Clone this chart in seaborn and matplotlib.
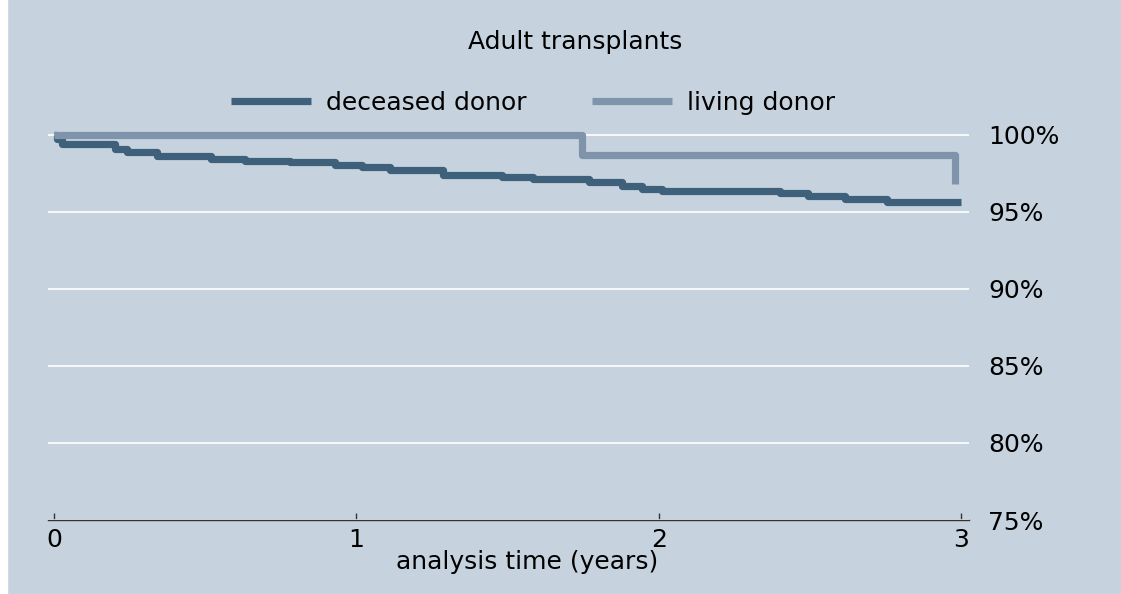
import matplotlib
matplotlib.use("Agg")
import matplotlib.pyplot as plt
from matplotlib.patches import Rectangle
import seaborn as sns
import pandas as pd

# Kaplan-Meier style survival (years, % surviving)
deceased_time = [0, 0.01, 0.025, 0.20, 0.24, 0.34, 0.52, 0.63, 0.78, 0.93, 1.02, 1.11,
                 1.285, 1.48, 1.585, 1.77, 1.88, 1.945, 2.01, 2.40, 2.495, 2.615, 2.755, 3.0]
deceased_surv = [100, 99.7, 99.38, 99.07, 98.86, 98.62, 98.40, 98.31, 98.21, 98.03, 97.92, 97.69,
                 97.38, 97.25, 97.12, 96.93, 96.67, 96.47, 96.36, 96.19, 96.02, 95.84, 95.65, 95.65]
living_time = [0, 1.745, 2.98]
living_surv = [100, 98.68, 96.8]

groups = ["deceased donor", "living donor"]
colors = ["#3e607a", "#7f94aa"]
y_ticks = [75, 80, 85, 90, 95, 100]
x_ticks = [0, 1, 2, 3]

bg = "#c6d3de"
fs = 18

df = pd.concat([
    pd.DataFrame({"time": deceased_time, "surv": deceased_surv, "group": groups[0]}),
    pd.DataFrame({"time": living_time, "surv": living_surv, "group": groups[1]}),
])

sns.set_style("white")
plt.rcParams["font.family"] = ["DejaVu Sans"]
plt.rcParams["text.color"] = "black"
plt.rcParams["axes.labelcolor"] = "black"
plt.rcParams["xtick.color"] = "black"
plt.rcParams["ytick.color"] = "black"

fig = plt.figure(figsize=(11.21, 5.94), dpi=100, facecolor=bg)
fig.patches.append(Rectangle((0, 0), 7 / 1121, 1, transform=fig.transFigure,
                             color="white", zorder=-1))
ax = fig.add_axes([48 / 1121, 74 / 594, 921 / 1121, 395 / 594])
ax.set_facecolor(bg)

sns.lineplot(data=df, x="time", y="surv", hue="group", palette=colors,
             drawstyle="steps-post", estimator=None, linewidth=5.2, ax=ax)
for ln in ax.lines:
    ln.set_solid_capstyle("butt")
    ln.set_solid_joinstyle("round")

ax.set_xlim(-0.02, 3.026)
ax.set_ylim(75, 100.63)
ax.set_xticks(x_ticks)
ax.set_yticks(y_ticks)
ax.set_yticklabels([f"{v}%" for v in y_ticks])
ax.yaxis.tick_right()
ax.grid(axis="y", color="white", linewidth=1.2)
ax.grid(axis="x", visible=False)
ax.set_axisbelow(True)

for side in ["top", "left", "right"]:
    ax.spines[side].set_visible(False)
ax.spines["bottom"].set_color("#333333")
ax.spines["bottom"].set_linewidth(1.0)
ax.spines["bottom"].set_zorder(5)

ax.tick_params(axis="x", direction="in", length=5, width=1, color="#333333",
               labelsize=fs, labelcolor="black", pad=6, bottom=True)
ax.tick_params(axis="y", length=0, labelsize=fs, labelcolor="black", pad=14,
               right=True, left=False)

ax.set_ylabel("")
ax.set_xlabel("analysis time (years)", fontsize=fs, color="black")
ax.xaxis.set_label_coords(0.52, -0.075)

handles, labels = ax.get_legend_handles_labels()
ax.get_legend().remove()
fig.legend(handles, labels, loc="center", bbox_to_anchor=(533 / 1121, 1 - 103 / 594),
           ncol=2, frameon=False, fontsize=fs, handlelength=3.2, handletextpad=0.6,
           columnspacing=2.6, labelcolor="black")

fig.text(575 / 1121, 1 - 42 / 594, "Adult transplants", ha="center", va="center",
         fontsize=fs, color="black")

fig.savefig("out.png", dpi=100, facecolor=bg)
